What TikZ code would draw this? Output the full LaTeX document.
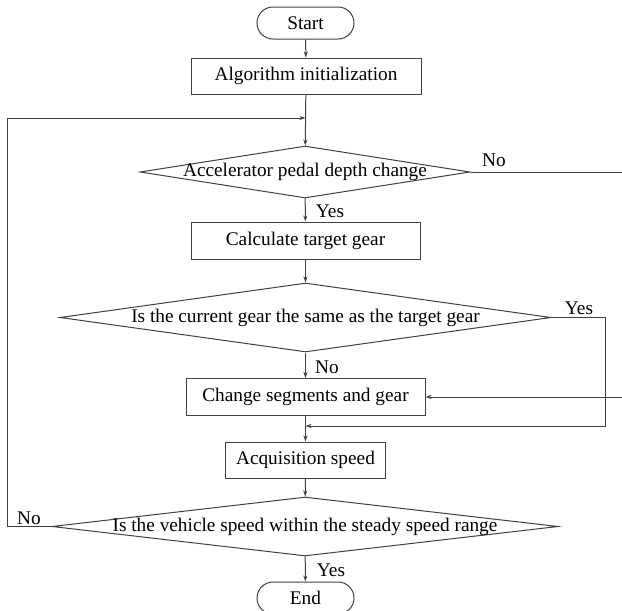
\documentclass[tikz,border=0pt]{standalone}
\usepackage{fontspec}
\setmainfont{Liberation Serif}
\usetikzlibrary{arrows.meta,shapes.geometric,shapes.misc}
\definecolor{linegray}{HTML}{404040}
\tikzset{
  terminal/.style={draw=linegray, line width=1pt, rounded rectangle, minimum width=97pt, minimum height=32pt, inner sep=0pt},
  process/.style={draw=linegray, line width=1pt, rectangle, minimum height=37pt, inner sep=0pt},
  decision/.style={draw=linegray, line width=1pt, diamond, inner sep=0pt},
  flow/.style={draw=linegray, line width=1pt, -{Stealth[length=6pt,width=4pt]}},
  plain/.style={draw=linegray, line width=1pt}
}
\begin{document}
\begin{tikzpicture}[x=1pt, y=-1pt, font=\fontsize{19.3}{22}\selectfont]
      \useasboundingbox (0,0) rectangle (622,611);
      \node[terminal] (start) at (305.5,23) {Start};
      \node[process, minimum width=230pt, minimum height=36pt] (init) at (306,76) {Algorithm initialization};
      \node[decision, minimum width=330pt, minimum height=52pt] (d1) at (305,172) {};
      \node (d1t) at (d1.center) {Accelerator pedal depth change};
      \node[process, minimum width=229pt] (calc) at (305.5,240.5) {Calculate target gear};
      \node[decision, minimum width=491pt, minimum height=69pt] (d2) at (305.5,317.5) {};
      \node (d2t) at (d2.center) {Is the current gear the same as the target gear};
      \node[process, minimum width=239pt] (change) at (305.5,397) {Change segments and gear};
      \node[process, minimum width=160pt, minimum height=36pt] (acq) at (305.5,460) {Acquisition speed};
      \node[decision, minimum width=506pt, minimum height=59pt] (d3) at (305,526.5) {};
      \node (d3t) at (d3.center) {Is the vehicle speed within the steady speed range};
      \node[terminal] (end) at (305.5,598) {End};
      % branch labels
      \node (no1) at (494,160) {No};
      \node (yes1) at (330,211) {Yes};
      \node (yes2) at (579,308) {Yes};
      \node (no2) at (327,367) {No};
      \node (no3) at (29,518) {No};
      \node (yes3) at (331,570) {Yes};
      % turning points
      \coordinate (back) at (305.5,118);
      \coordinate (farleft) at (7,118);
      \coordinate (noout) at (622,172);
      \coordinate (noin) at (622,397);
      \coordinate (yesturn) at (605,426);
      \coordinate (merge) at (305.5,426);
      \begin{scope}[flow]
        \draw (start) to (init);
        \draw (init) to (d1);
        \draw (d1) to (calc);
        \draw (calc) to (d2);
        \draw (d2) to (change);
        \draw (change) to (acq);
        \draw (acq) to (d3);
        \draw (d3) to (end);
        \draw (d3.west) -| (farleft) -- (back);
        \draw (noin) -- (change.east);
        \draw (d2.east) -| (yesturn) -- (merge);
      \end{scope}
      \draw[plain] (d1.east) -- (noout);
    \end{tikzpicture}
\end{document}
